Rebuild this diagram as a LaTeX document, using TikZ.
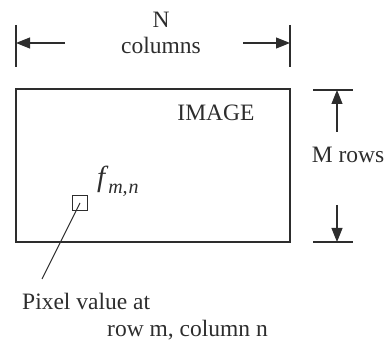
\documentclass[tikz,border=0pt]{standalone}
\usepackage{fontspec}
\setmainfont{Liberation Serif}
\usetikzlibrary{positioning,arrows.meta,calc}
\definecolor{inkC}{RGB}{45,45,45}
\tikzset{
	label text/.style={font=\fontsize{23.5}{26}\selectfont, text=inkC, inner sep=0pt},
	frame/.style={draw=inkC, line width=1.4pt},
	tick/.style={draw=inkC, line width=1.2pt},
	dim/.style={-{Triangle[length=14pt,width=11pt]}, draw=inkC, line width=1.1pt},
	leader/.style={draw=inkC, line width=1.1pt},
}

\begin{document}
\begin{tikzpicture}[x=1pt, y=-1pt]
		\useasboundingbox (0,0) rectangle (392,344);
		
		% ================= Image frame =================
		\node[frame, minimum width=274pt, minimum height=153pt, inner sep=0pt]
		(img) at (153,165.5) {};
		\node[label text] (title) at (216,113) {IMAGE};
		
		% ================= Pixel =================
		\node[frame, line width=1.1pt, minimum size=15pt, inner sep=0pt] (pix) at (80,203) {};
		\node[label text, anchor=base west] (fmn) at (97,187)
		{{\fontsize{29}{30}\selectfont\itshape f}\hspace{3pt}\raisebox{-7pt}{\fontsize{20}{21}\selectfont\itshape m,\hspace{1pt}n}};
		\coordinate (lead) at (42,279);
		\draw[leader] (pix.center) -- (lead);
		\node[label text, anchor=west] (note1) at (22,301) {Pixel value at};
		\node[label text, anchor=west] (note2) at (107,330) {row m, column n};
		
		% ================= N columns =================
		\coordinate (tl1) at (16,25);
		\coordinate (tl2) at (16,67);
		\coordinate (tr1) at (290,25);
		\coordinate (tr2) at (290,67);
		\draw[tick] (tl1) -- (tl2);
		\draw[tick] (tr1) -- (tr2);
		\node[label text] (N) at (161,20) {N};
		\node[label text] (cols) at (161,45) {columns};
		\coordinate (al) at (65,43);
		\coordinate (ar) at (243,43);
		\draw[dim] (al) -- (al -| tl1);
		\draw[dim] (ar) -- (ar -| tr1);
		
		% ================= M rows =================
		\coordinate (rt1) at (313,90);
		\coordinate (rt2) at (353,90);
		\coordinate (rb1) at (313,242);
		\coordinate (rb2) at (353,242);
		\draw[tick] (rt1) -- (rt2);
		\draw[tick] (rb1) -- (rb2);
		\node[label text] (rows) at (348,155) {M rows};
		\coordinate (au) at (337,132);
		\coordinate (ad) at (337,205);
		\draw[dim] (au) -- (au |- rt1);
		\draw[dim] (ad) -- (ad |- rb1);
		
	\end{tikzpicture}
\end{document}
